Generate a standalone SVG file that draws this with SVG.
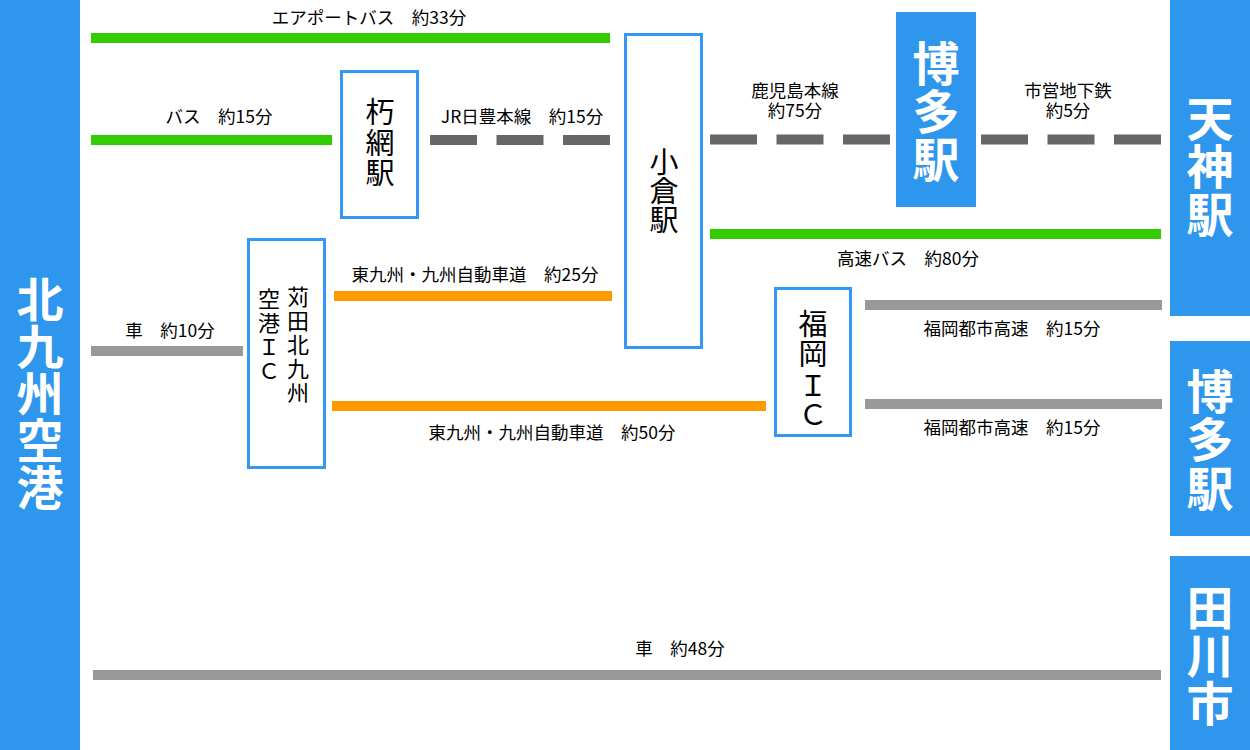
<svg xmlns="http://www.w3.org/2000/svg" width="1250" height="750" viewBox="0 0 1250 750">
<style>
.blue{fill:#2e96ed}
.box{fill:#ffffff;stroke:#3399f5;stroke-width:3}
.big{font-family:"Noto Sans CJK JP","Noto Sans",sans-serif;font-size:47px;font-weight:bold;fill:#ffffff;text-anchor:middle;dominant-baseline:central}
.mid{font-family:"Noto Sans CJK JP","Noto Sans",sans-serif;font-size:29px;fill:#000000;text-anchor:middle;dominant-baseline:central}
.sm{font-family:"Noto Sans CJK JP","Noto Sans",sans-serif;font-size:22px;fill:#000000;text-anchor:middle;dominant-baseline:central}
.lbl{font-family:"Noto Sans CJK JP","Noto Sans",sans-serif;font-size:17.5px;fill:#000000;text-anchor:middle;dominant-baseline:central}
.green{stroke:#33cc00;stroke-width:10}
.orange{stroke:#ff9900;stroke-width:10}
.gray{stroke:#999999;stroke-width:10}
.dash{stroke:#666666;stroke-width:10;stroke-dasharray:47 19.5}
</style>
<rect width="1250" height="750" fill="#ffffff"/>

<g id="connectors">
  <line class="green" x1="91" y1="38" x2="610" y2="38"/>
  <text class="lbl" x="369" y="16">エアポートバス　約33分</text>
  <line class="green" x1="91" y1="140" x2="332" y2="140"/>
  <text class="lbl" x="219" y="115">バス　約15分</text>
  <line class="dash" x1="430" y1="140" x2="610" y2="140"/>
  <text class="lbl" x="522" y="115">JR日豊本線　約15分</text>
  <line class="dash" x1="710" y1="139.5" x2="890" y2="139.5"/>
  <text class="lbl" x="795" y="89">鹿児島本線</text>
  <text class="lbl" x="795" y="109">約75分</text>
  <line class="dash" x1="981" y1="139.5" x2="1161" y2="139.5"/>
  <text class="lbl" x="1068" y="89">市営地下鉄</text>
  <text class="lbl" x="1068" y="109">約5分</text>
  <line class="green" x1="710" y1="234" x2="1161" y2="234"/>
  <text class="lbl" x="908" y="257">高速バス　約80分</text>
  <line class="gray" x1="91" y1="351" x2="243" y2="351"/>
  <text class="lbl" x="170" y="329">車　約10分</text>
  <line class="orange" x1="334" y1="296" x2="612" y2="296"/>
  <text class="lbl" x="475" y="273">東九州・九州自動車道　約25分</text>
  <line class="orange" x1="332" y1="406" x2="766" y2="406"/>
  <text class="lbl" x="552" y="431">東九州・九州自動車道　約50分</text>
  <line class="gray" x1="865" y1="305" x2="1162" y2="305"/>
  <text class="lbl" x="1012" y="327">福岡都市高速　約15分</text>
  <line class="gray" x1="865" y1="404" x2="1162" y2="404"/>
  <text class="lbl" x="1012" y="426">福岡都市高速　約15分</text>
  <line class="gray" x1="93" y1="675" x2="1161" y2="675"/>
  <text class="lbl" x="680" y="647">車　約48分</text>
</g>

<g id="kitakyushu-airport">
  <rect class="blue" x="0" y="0" width="80" height="750"/>
  <text class="big" x="40" y="296">北</text>
  <text class="big" x="40" y="343">九</text>
  <text class="big" x="40" y="390">州</text>
  <text class="big" x="40" y="437">空</text>
  <text class="big" x="40" y="484">港</text>
</g>

<g id="tenjin-station">
  <rect class="blue" x="1170" y="0" width="80" height="316"/>
  <text class="big" x="1210" y="115">天</text>
  <text class="big" x="1210" y="163">神</text>
  <text class="big" x="1210" y="211">駅</text>
</g>

<g id="hakata-station-right">
  <rect class="blue" x="1170" y="341" width="80" height="195"/>
  <text class="big" x="1210" y="388">博</text>
  <text class="big" x="1210" y="436">多</text>
  <text class="big" x="1210" y="485">駅</text>
</g>

<g id="tagawa-city">
  <rect class="blue" x="1170" y="556" width="80" height="194"/>
  <text class="big" x="1210" y="604">田</text>
  <text class="big" x="1210" y="652">川</text>
  <text class="big" x="1210" y="700">市</text>
</g>

<g id="hakata-station">
  <rect class="blue" x="896" y="12" width="80" height="195"/>
  <text class="big" x="936" y="60">博</text>
  <text class="big" x="936" y="108">多</text>
  <text class="big" x="936" y="156">駅</text>
</g>

<g id="kusami-station">
  <rect class="box" x="341.5" y="71.5" width="76" height="146"/>
  <text class="mid" x="380" y="110">朽</text>
  <text class="mid" x="380" y="141">網</text>
  <text class="mid" x="380" y="171">駅</text>
</g>

<g id="kokura-station">
  <rect class="box" x="625.5" y="34.5" width="76" height="313"/>
  <text class="mid" x="664" y="160">小</text>
  <text class="mid" x="664" y="189">倉</text>
  <text class="mid" x="664" y="218">駅</text>
</g>

<g id="kanda-kitakyushu-airport-ic">
  <rect class="box" x="248.5" y="239.5" width="76" height="228"/>
  <text class="sm" x="298" y="295">苅</text>
  <text class="sm" x="298" y="319">田</text>
  <text class="sm" x="298" y="343">北</text>
  <text class="sm" x="298" y="367">九</text>
  <text class="sm" x="298" y="391">州</text>
  <text class="sm" x="269" y="297">空</text>
  <text class="sm" x="269" y="321">港</text>
  <text class="sm" x="269" y="345">Ｉ</text>
  <text class="sm" x="269" y="369">Ｃ</text>
</g>

<g id="fukuoka-ic">
  <rect class="box" x="775.5" y="288.5" width="75" height="147"/>
  <text class="mid" x="813" y="322">福</text>
  <text class="mid" x="813" y="352">岡</text>
  <text class="mid" x="813" y="383">Ｉ</text>
  <text class="mid" x="813" y="412">Ｃ</text>
</g>
</svg>
